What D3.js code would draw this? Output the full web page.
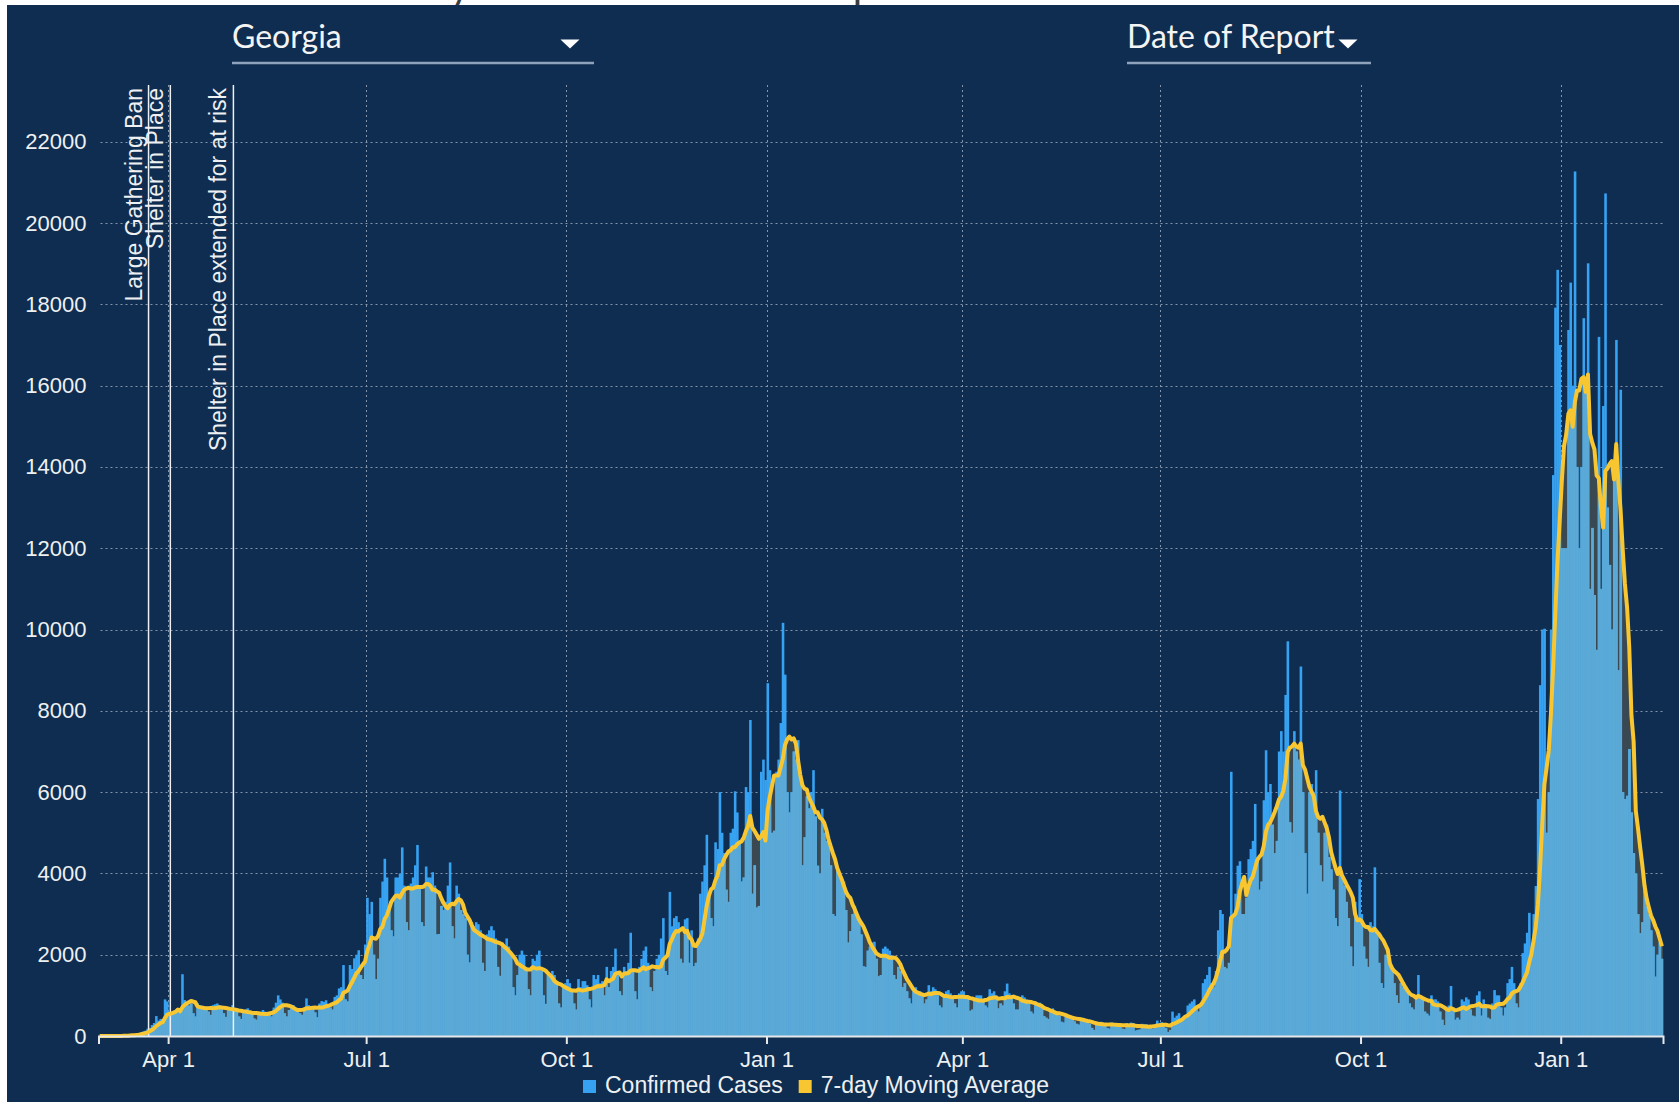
<!DOCTYPE html>
<html>
<head>
<meta charset="utf-8">
<title>Georgia - Daily Cases by Date of Report</title>
<script src="https://cdn.jsdelivr.net/npm/d3@7"></script>
<style>
  body { margin: 0; background: #fff; }
  svg { display: block; }
</style>
</head>
<body>
<svg id="chart" width="1679" height="1102"></svg>
<script>
// Daily confirmed cases (date of report).
// First value is Sat Feb 29 2020, then one row per week, Sun..Sat.
const startDate = new Date(Date.UTC(2020, 1, 29));
const dailyCases = [
  0,
  0, 0, 2, 0, 0, 1, 4,                    // Mar 1 2020
  4, 5, 5, 11, 11, 22, 33,                // Mar 8
  35, 22, 50, 60, 85, 110, 130,           // Mar 15
  180, 200, 270, 320, 490, 380, 420,      // Mar 22
  290, 900, 850, 480, 560, 540, 580,      // Mar 29
  650, 600, 1520, 885, 820, 750, 800,     // Apr 5
  560, 480, 800, 760, 740, 700, 720,      // Apr 12
  600, 520, 760, 780, 800, 760, 700,      // Apr 19
  560, 470, 680, 700, 760, 680, 620,      // Apr 26
  480, 420, 610, 650, 680, 620, 560,      // May 3
  430, 400, 560, 600, 640, 600, 560,      // May 10
  520, 480, 700, 820, 1000, 900, 820,     // May 17
  560, 480, 640, 700, 760, 680, 640,      // May 24
  560, 520, 700, 925, 760, 720, 700,      // May 31
  580, 460, 800, 860, 840, 880, 780,      // Jun 7
  700, 650, 960, 1000, 1170, 1200, 1745,  // Jun 14
  900, 850, 1745, 1650, 1910, 2000, 2110, // Jun 21
  1500, 1400, 2250, 3400, 3000, 3300, 2000, // Jun 28
  1400, 1900, 3400, 3800, 4360, 3900, 3100, // Jul 5
  2600, 2450, 3900, 3900, 4000, 4640, 3700, // Jul 12
  2800, 2600, 3750, 3900, 4200, 4700, 3700, // Jul 19
  2800, 2700, 4170, 3900, 3900, 4030, 3700, // Jul 26
  2500, 2510, 3200, 3100, 3300, 3700, 4270, // Aug 2
  2700, 2400, 3700, 3500, 3100, 3000, 2900, // Aug 9
  2000, 1810, 2800, 2700, 2800, 2750, 2600, // Aug 16
  1800, 1600, 2500, 2600, 2700, 2600, 2400, // Aug 23
  1700, 1480, 2300, 2200, 2400, 2200, 2000, // Aug 30
  1200, 1000, 1500, 2000, 2100, 2000, 1700, // Sep 6
  1150, 1000, 1900, 1850, 2000, 2100, 1600, // Sep 13
  1000, 790, 1500, 1500, 1600, 1500, 1300,  // Sep 20
  800, 700, 1200, 1300, 1400, 1300, 1150,   // Sep 27
  800, 650, 1400, 1200, 1350, 1350, 1250,   // Oct 4
  900, 700, 1500, 1400, 1500, 1300, 1350,   // Oct 11
  1000, 1700, 1200, 1600, 1700, 2150, 1500, // Oct 18
  1100, 1000, 1700, 1600, 1800, 2540, 1600, // Oct 25
  1100, 900, 1700, 1900, 2100, 2200, 1800,  // Nov 1
  1200, 1100, 1600, 1900, 2000, 2400, 2900, // Nov 8
  1600, 1500, 3545, 2700, 2900, 2950, 2800, // Nov 15
  1900, 1800, 2870, 2900, 1800, 2600, 1715, // Nov 22
  1800, 2400, 3500, 3800, 4200, 4950, 3500, // Nov 29
  2900, 2700, 4765, 4600, 6000, 5000, 4500, // Dec 6
  3600, 3300, 5000, 5100, 6020, 5500, 4800, // Dec 13
  3800, 3900, 6125, 6000, 7775, 3500, 4200, // Dec 20
  3160, 3200, 6500, 6800, 6300, 8680, 6540, // Dec 27
  5000, 5050, 6500, 6800, 7700, 10165, 8890, // Jan 3 2021
  6000, 5500, 6000, 7000, 6800, 7280, 6400, // Jan 10
  4200, 4890, 5900, 5600, 6000, 6540, 5400, // Jan 17
  4190, 4000, 5590, 5000, 4800, 4900, 4200, // Jan 24
  3000, 2950, 4100, 4000, 3900, 3800, 3100, // Jan 31
  2300, 2580, 3000, 3200, 3000, 2900, 2500, // Feb 7
  1715, 1700, 2100, 2200, 2300, 2320, 1900, // Feb 14
  1470, 1500, 2150, 2200, 2150, 2100, 1900, // Feb 21
  1500, 1400, 1700, 1600, 1200, 1300, 1100, // Feb 28
  925, 800, 1100, 1200, 1050, 1100, 1000,   // Mar 7
  800, 900, 1250, 1100, 1200, 1150, 1000,   // Mar 14
  750, 700, 1000, 1100, 1130, 1050, 950,    // Mar 21
  800, 700, 1050, 1100, 1100, 1000, 950,    // Mar 28
  620, 650, 900, 1000, 1000, 1000, 900,     // Apr 4
  750, 700, 1150, 1050, 1100, 1000, 680,    // Apr 11
  800, 750, 1100, 1290, 1050, 1000, 800,    // Apr 18
  650, 650, 950, 1000, 950, 900, 800,       // Apr 25
  600, 550, 850, 800, 820, 750, 490,        // May 2
  450, 420, 650, 680, 620, 600, 500,        // May 9
  350, 330, 520, 500, 500, 480, 360,        // May 16
  300, 280, 450, 420, 400, 380, 300,        // May 23
  200, 150, 350, 330, 350, 330, 250,        // May 30
  200, 180, 330, 320, 320, 300, 240,        // Jun 6
  180, 170, 320, 300, 330, 320, 130,        // Jun 13
  150, 160, 300, 280, 290, 270, 200,        // Jun 20
  180, 200, 380, 320, 340, 320, 200,        // Jun 27
  100, 150, 600, 450, 500, 560, 350,        // Jul 4
  400, 500, 750, 800, 850, 900, 700,        // Jul 11
  600, 700, 1300, 1400, 1500, 1700, 1300,   // Jul 18
  1200, 1600, 2600, 3100, 3000, 1700, 1660, // Jul 25
  1800, 6500, 2900, 3500, 4190, 4300, 3000, // Aug 1
  3000, 3400, 4350, 4600, 4800, 5710, 4400, // Aug 8
  3600, 3800, 5800, 7030, 6000, 6200, 5200, // Aug 15
  4500, 4800, 7000, 7500, 7000, 8390, 9710, // Aug 22
  5260, 5000, 7500, 7000, 6800, 9090, 6000, // Aug 29
  4500, 3500, 6000, 6200, 6000, 6540, 5000, // Sep 5
  4200, 3800, 5000, 5200, 4400, 4100, 3600, // Sep 12
  2900, 2700, 6040, 3900, 3700, 3300, 2900, // Sep 19
  2200, 1715, 3300, 2800, 3860, 3000, 2200, // Sep 26
  1900, 1700, 2800, 2700, 4150, 2500, 1800, // Oct 3
  1300, 1180, 2000, 1900, 1800, 1700, 1300, // Oct 10
  1000, 810, 1300, 1200, 1150, 1100, 800,   // Oct 17
  700, 650, 1000, 1500, 1000, 900, 600,     // Oct 24
  550, 500, 1000, 900, 900, 850, 600,       // Oct 31
  400, 270, 700, 750, 1230, 700, 400,       // Nov 7
  450, 400, 900, 850, 950, 900, 650,        // Nov 14
  500, 480, 1000, 1100, 500, 900, 700,      // Nov 21
  450, 420, 800, 1130, 1000, 1000, 700,     // Nov 28
  500, 700, 1300, 1400, 1700, 1300, 800,    // Dec 5
  700, 1300, 2040, 2277, 2540, 3030, 2200,  // Dec 12
  3000, 3690, 5830, 8630, 10000, 10020, 5000, // Dec 19
  6000, 10000, 13800, 17920, 18850, 17000, 12000, // Dec 26
  12000, 12000, 17370, 18535, 16000, 21270, 14000, // Jan 2 2022
  12000, 14000, 17660, 16000, 19010, 11000, 12500, // Jan 9
  10850, 9500, 17200, 11000, 15500, 20730, 13000,  // Jan 16
  11590, 10000, 14000, 17125, 9000, 15900, 6000,   // Jan 23
  5830, 5910, 7060, 5500, 4500, 4000, 3000,        // Jan 30
  2530, 2800, 3600, 3200, 3000, 2600, 2200,        // Feb 6
  1460, 2000, 2300, 1900                           // Feb 13
];

const xTickDates = [
  [2020, 3], [2020, 6], [2020, 9], [2021, 0],
  [2021, 3], [2021, 6], [2021, 9], [2022, 0]
].map(([yr, m]) => new Date(Date.UTC(yr, m, 1)));
const yTicks = [0, 2000, 4000, 6000, 8000, 10000, 12000, 14000, 16000, 18000, 20000, 22000];

const events = [
  { date: new Date(Date.UTC(2020, 2, 23)), label: 'Large Gathering Ban' },
  { date: new Date(Date.UTC(2020, 3, 2)), label: 'Shelter in Place' },
  { date: new Date(Date.UTC(2020, 4, 1)), label: 'Shelter in Place extended for at risk' }
];
const legendItems = [
  { label: 'Confirmed Cases', color: '#37a2f2' },
  { label: '7-day Moving Average', color: '#f8c630' }
];
const titleText = 'Daily Cases Over Time: Date of Report';
const regionLabel = 'Georgia';
const dateModeLabel = 'Date of Report';

const NAVY = '#0f2d50';
const BAR_BLUE = '#37a2f2';
const AREA_BLUE = '#5aa9d7';
const DARK_GRAY = '#3a4852';
const YELLOW = '#f8c630';
const LIGHT = '#eef0f2';
const TICK_FONT = '"Liberation Sans", Arial, sans-serif';

// series + trailing 7-day mean
const days = dailyCases.map((v, i) => ({ date: d3.utcDay.offset(startDate, i), cases: v }));
days.forEach((d, i) => {
  d.avg = d3.mean(days.slice(Math.max(0, i - 6), i + 1), e => e.cases);
});

const svg = d3.select('#chart');
const W = 1679, H = 1102;
const plot = { left: 98.5, right: 1663, top: 85, bottom: 1036 };

const x = d3.scaleTime()
  .domain([startDate, d3.utcDay.offset(startDate, days.length)])
  .range([plot.left, plot.right]);
const y = d3.scaleLinear()
  .domain([0, d3.max(dailyCases) * 1.1])
  .range([plot.bottom, plot.top]);
const step = x(d3.utcDay.offset(startDate, 1)) - x(startDate);

// page title sits above the dark panel, only its descenders peek through
const title = svg.append('text')
  .attr('x', 0).attr('y', -0.5)
  .attr('font-family', 'Lato, sans-serif')
  .attr('font-weight', 'bold')
  .attr('font-size', 30)
  .attr('fill', '#3c3c3c')
  .text(titleText);
const yCharX = title.node().getStartPositionOfChar(titleText.indexOf('y')).x;
title.attr('x', 452 - yCharX);

svg.append('rect')
  .attr('x', 7).attr('y', 5)
  .attr('width', W - 7).attr('height', H - 5)
  .attr('fill', NAVY);

// dropdown controls
function dropdown(label, x0, x1, arrowX) {
  const g = svg.append('g');
  g.append('text')
    .attr('x', x0).attr('y', 48)
    .attr('font-family', 'Lato, sans-serif')
    .attr('font-size', 32)
    .attr('fill', '#f4f4f4')
    .text(label);
  g.append('line')
    .attr('x1', x0).attr('x2', x1)
    .attr('y1', 63).attr('y2', 63)
    .attr('stroke', '#8fa2bb')
    .attr('stroke-width', 2.5);
  g.append('path')
    .attr('d', `M${arrowX - 9.5},39.5h19l-9.5,9z`)
    .attr('fill', '#ffffff');
}
dropdown(regionLabel, 232, 594, 570);
dropdown(dateModeLabel, 1127, 1371, 1348);

// grid
const grid = svg.append('g')
  .attr('stroke', '#8494aa')
  .attr('stroke-width', 1)
  .attr('stroke-dasharray', '2,3');
grid.selectAll('line.h')
  .data(yTicks.filter(v => v > 0))
  .join('line')
  .attr('class', 'h')
  .attr('x1', plot.left + 2).attr('x2', plot.right)
  .attr('y1', d => Math.round(y(d)) + 0.5).attr('y2', d => Math.round(y(d)) + 0.5);
grid.selectAll('line.v')
  .data(xTickDates)
  .join('line')
  .attr('class', 'v')
  .attr('x1', d => Math.round(x(d)) + 0.5).attr('x2', d => Math.round(x(d)) + 0.5)
  .attr('y1', plot.top).attr('y2', plot.bottom);

// area of the moving average, edges pulled out to the bar edges
const areaX = (d, i) => i === 0 ? x(d.date) : (i === days.length - 1 ? x(d.date) + step : x(d.date) + step / 2);
const avgArea = d3.area()
  .x(areaX)
  .y0(y(0))
  .y1(d => y(d.avg));

svg.append('clipPath').attr('id', 'avgClip')
  .append('path').attr('d', avgArea(days));

svg.append('path')
  .attr('d', avgArea(days))
  .attr('fill', DARK_GRAY);

function drawBars(g, color) {
  g.selectAll('rect')
    .data(days)
    .join('rect')
    .attr('x', d => x(d.date))
    .attr('width', step + 0.4)
    .attr('y', d => y(d.cases))
    .attr('height', d => y(0) - y(d.cases))
    .attr('fill', color);
}
drawBars(svg.append('g'), BAR_BLUE);
drawBars(svg.append('g').attr('clip-path', 'url(#avgClip)'), AREA_BLUE);

// event markers
const ev = svg.append('g');
ev.selectAll('line')
  .data(events)
  .join('line')
  .attr('x1', d => x(d.date)).attr('x2', d => x(d.date))
  .attr('y1', plot.top).attr('y2', plot.bottom)
  .attr('stroke', LIGHT)
  .attr('stroke-width', 1.5);
ev.selectAll('text')
  .data(events)
  .join('text')
  .attr('transform', d => `translate(${x(d.date) - 7},${plot.top + 3}) rotate(-90)`)
  .attr('text-anchor', 'end')
  .attr('font-family', TICK_FONT)
  .attr('font-size', 23)
  .attr('fill', LIGHT)
  .text(d => d.label);

// 7-day moving average line
svg.append('path')
  .datum(days)
  .attr('fill', 'none')
  .attr('stroke', YELLOW)
  .attr('stroke-width', 4)
  .attr('stroke-linejoin', 'round')
  .attr('d', d3.line().x(d => x(d.date) + step / 2).y(d => y(d.avg)));

// axes
const xAxis = svg.append('g')
  .attr('transform', `translate(0,${plot.bottom})`)
  .call(d3.axisBottom(x)
    .tickValues(xTickDates)
    .tickFormat(d3.utcFormat('%b %-d'))
    .tickSize(8)
    .tickSizeOuter(8)
    .tickPadding(7));
xAxis.select('.domain').attr('stroke', '#e6e8ea').attr('stroke-width', 2);
xAxis.selectAll('.tick line').attr('stroke', '#e6e8ea').attr('stroke-width', 2);
xAxis.selectAll('.tick text')
  .attr('fill', LIGHT)
  .attr('font-family', TICK_FONT)
  .attr('font-size', 22);

const yAxis = svg.append('g')
  .attr('transform', `translate(${plot.left},0)`)
  .call(d3.axisLeft(y)
    .tickValues(yTicks)
    .tickFormat(d3.format('d'))
    .tickSize(0)
    .tickPadding(12));
yAxis.select('.domain').remove();
yAxis.selectAll('.tick text')
  .attr('fill', LIGHT)
  .attr('font-family', TICK_FONT)
  .attr('font-size', 22);

// legend
const legend = svg.append('g').attr('transform', 'translate(583,1080)');
let lx = 0;
legendItems.forEach(item => {
  const g = legend.append('g').attr('transform', `translate(${lx},0)`);
  g.append('rect').attr('width', 13).attr('height', 13).attr('fill', item.color);
  const t = g.append('text')
    .attr('x', 22).attr('y', 13)
    .attr('font-family', TICK_FONT)
    .attr('font-size', 23)
    .attr('fill', LIGHT)
    .text(item.label);
  lx += 22 + t.node().getComputedTextLength() + 16;
});
</script>
</body>
</html>
